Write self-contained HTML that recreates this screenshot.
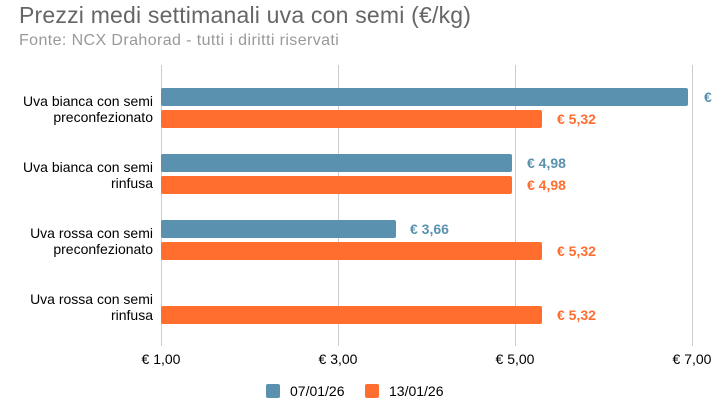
<!DOCTYPE html>
<html><head><style>
body{margin:0;background:#fff;font-family:"Liberation Sans",sans-serif;}
.c{position:relative;width:712px;height:401px;overflow:hidden;}
.a{position:absolute;white-space:nowrap;}
.g{position:absolute;top:65px;height:281px;width:1px;background:#ccc;}
.b{position:absolute;height:18px;border-radius:2px;}
.bl{background:#5a91af;}.or{background:#ff6d2f;}
.cat{position:absolute;right:559px;text-align:right;font-size:14px;line-height:16px;color:#000;white-space:nowrap;}
.v{position:absolute;font-size:14px;font-weight:bold;line-height:18px;white-space:nowrap;}
.vb{color:#5a91af;}.vo{color:#ff6d2f;}
.t{position:absolute;top:351px;font-size:14px;width:80px;text-align:center;}
</style></head><body><div class="c">
<div class="a" style="left:19px;top:2px;font-size:23px;color:#666;letter-spacing:0.2px">Prezzi medi settimanali uva con semi (€/kg)</div>
<div class="a" style="left:19px;top:32px;font-size:16px;color:#999;letter-spacing:0.4px">Fonte: NCX Drahorad - tutti i diritti riservati</div>
<div class="g" style="left:161px"></div><div class="g" style="left:338px"></div><div class="g" style="left:515px"></div><div class="g" style="left:692px"></div>
<div class="b bl" style="left:161px;width:527px;top:88px"></div>
<div class="b or" style="left:161px;width:381px;top:110px"></div>
<div class="b bl" style="left:161px;width:351px;top:154px"></div>
<div class="b or" style="left:161px;width:351px;top:176px"></div>
<div class="b bl" style="left:161px;width:235px;top:220px"></div>
<div class="b or" style="left:161px;width:381px;top:242px"></div>
<div class="b or" style="left:161px;width:381px;top:306px"></div>
<div class="v vb" style="left:704px;top:88px">€ 6,96</div>
<div class="v vo" style="left:557px;top:110px">€ 5,32</div>
<div class="v vb" style="left:527px;top:154px">€ 4,98</div>
<div class="v vo" style="left:527px;top:176px">€ 4,98</div>
<div class="v vb" style="left:410px;top:220px">€ 3,66</div>
<div class="v vo" style="left:557px;top:242px">€ 5,32</div>
<div class="v vo" style="left:557px;top:306px">€ 5,32</div>
<div class="cat" style="top:93px">Uva bianca con semi<br>preconfezionato</div>
<div class="cat" style="top:159px">Uva bianca con semi<br>rinfusa</div>
<div class="cat" style="top:225px">Uva rossa con semi<br>preconfezionato</div>
<div class="cat" style="top:291px">Uva rossa con semi<br>rinfusa</div>
<div class="t" style="left:121px">€ 1,00</div>
<div class="t" style="left:298px">€ 3,00</div>
<div class="t" style="left:475px">€ 5,00</div>
<div class="t" style="left:652px">€ 7,00</div>
<div class="a" style="left:266px;top:384px;width:14px;height:14px;background:#5a91af;border-radius:2px"></div>
<div class="a" style="left:290px;top:383px;font-size:14px;">07/01/26</div>
<div class="a" style="left:365px;top:384px;width:14px;height:14px;background:#ff6d2f;border-radius:2px"></div>
<div class="a" style="left:389px;top:383px;font-size:14px;">13/01/26</div>
</div></body></html>
